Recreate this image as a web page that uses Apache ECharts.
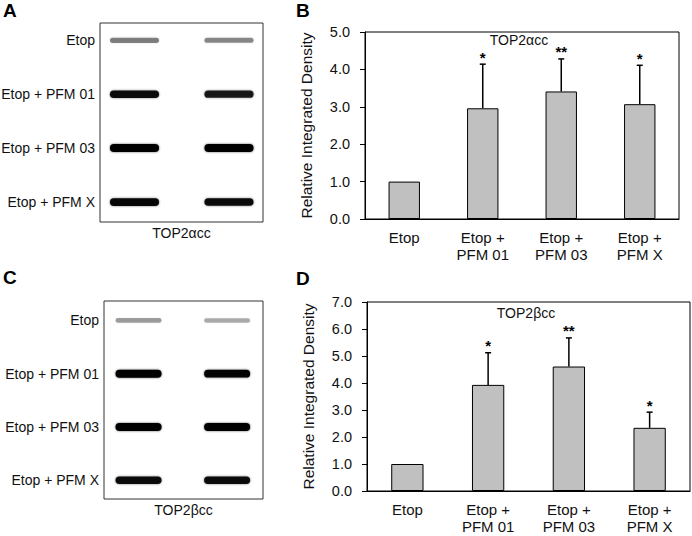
<!DOCTYPE html>
<html>
<head>
<meta charset="utf-8">
<script src="https://cdn.jsdelivr.net/npm/echarts@6.0.0/dist/echarts.min.js"></script>
<style>
html, body { margin: 0; padding: 0; background: #fff; }
#main { width: 692px; height: 536px; }
</style>
</head>
<body>
<div id="main"></div>
<script>
// 斑点图每一行的名字
var blotRows = ['Etop', 'Etop + PFM 01', 'Etop + PFM 03', 'Etop + PFM X'];
// 每行两个泳道的条带深浅 (0~1)
var alphaBands = [[0.45, 0.42], [0.92, 0.85], [1, 1], [0.95, 0.92]];
var betaBands = [[0.35, 0.3], [1, 0.97], [1, 1], [0.92, 0.92]];

// 柱状图数据
var barCategories = ['Etop', 'Etop +\nPFM 01', 'Etop +\nPFM 03', 'Etop +\nPFM X'];
var alphaMean = [1.0, 2.96, 3.41, 3.07];
var alphaErr = [0, 1.18, 0.87, 1.04];
var betaMean = [1.0, 3.93, 4.61, 2.34];
var betaErr = [0, 1.19, 1.06, 0.58];
var sigMarks = ['', '*', '**', '*'];
var alphaYMax = 5;
var betaYMax = 7;

var FONT = '"Liberation Sans", Arial, sans-serif';

function bandData(bands) {
    var out = [];
    for (var r = 0; r < bands.length; r++) {
        for (var l = 0; l < bands[r].length; l++) {
            out.push([l + 1, r, bands[r][l]]);
        }
    }
    return out;
}

// 画条带, 越深越粗
function renderBand(params, api) {
    var c = api.coord([api.value(0), api.value(1)]);
    var w = api.size([0.52, 0])[0];
    var k = api.value(2);
    var h = 3 + 5 * k;
    return {
        type: 'rect',
        shape: { x: c[0] - w / 2, y: c[1] - h / 2, width: w, height: h, r: h / 2 },
        style: { fill: 'rgba(0,0,0,' + k + ')', shadowBlur: 2, shadowColor: 'rgba(0,0,0,' + (k * 0.6) + ')' }
    };
}

function renderRowLabel(params, api) {
    var c = api.coord([1, api.value(1)]);
    return {
        type: 'text',
        x: params.coordSys.x - 5,
        y: c[1],
        style: { text: blotRows[params.dataIndex], align: 'right', verticalAlign: 'middle', font: '14px ' + FONT, fill: '#111' }
    };
}

// 误差线 + 星号
function renderErr(params, api) {
    var i = api.value(0), m = api.value(1), e = api.value(2);
    if (!e) return null;
    var base = api.coord([i, m]);
    var top = api.coord([i, m + e]);
    return {
        type: 'group',
        children: [
            { type: 'line', shape: { x1: base[0], y1: base[1], x2: top[0], y2: top[1] }, style: { stroke: '#000', lineWidth: 1.5 } },
            { type: 'line', shape: { x1: top[0] - 3, y1: top[1], x2: top[0] + 3, y2: top[1] }, style: { stroke: '#000', lineWidth: 1.5 } },
            { type: 'text', x: top[0], y: top[1] - 7, style: { text: sigMarks[params.dataIndex], align: 'center', verticalAlign: 'middle', font: 'bold 15px ' + FONT, fill: '#000' } }
        ]
    };
}

function blotXAxis(grid, min, max, name) {
    return {
        gridIndex: grid, type: 'value', min: min, max: max,
        axisLine: { show: false }, axisTick: { show: false }, axisLabel: { show: false }, splitLine: { show: false },
        name: name, nameLocation: 'middle', nameGap: 4,
        nameTextStyle: { fontSize: 14, color: '#111', fontFamily: FONT, verticalAlign: 'top' }
    };
}
function blotYAxis(grid, min, max) {
    return {
        gridIndex: grid, type: 'value', min: min, max: max, inverse: true,
        axisLine: { show: false }, axisTick: { show: false }, axisLabel: { show: false }, splitLine: { show: false }
    };
}
function barXAxis(grid) {
    return {
        gridIndex: grid, type: 'category', data: barCategories,
        axisLine: { lineStyle: { color: '#000', width: 1 } },
        axisTick: { length: 5, lineStyle: { color: '#000' } },
        axisLabel: { interval: 0, fontSize: 15, color: '#111', fontFamily: FONT, lineHeight: 17, margin: 10 }
    };
}
function barYAxis(grid, max) {
    return {
        gridIndex: grid, type: 'value', min: 0, max: max, interval: 1,
        name: 'Relative Integrated Density', nameLocation: 'middle', nameGap: 51,
        nameTextStyle: { fontSize: 15.5, color: '#111', fontFamily: FONT },
        axisLine: { show: true, lineStyle: { color: '#000', width: 1 } },
        axisTick: { show: true, length: 5, lineStyle: { color: '#000' } },
        axisLabel: { fontSize: 14.5, color: '#111', fontFamily: FONT, margin: 15, formatter: function (v) { return v.toFixed(1); } },
        splitLine: { show: false }
    };
}
function barSeries(axis, means) {
    return {
        type: 'bar', xAxisIndex: axis, yAxisIndex: axis, data: means, barWidth: '40%',
        itemStyle: { color: '#c0c0c0', borderColor: '#000', borderWidth: 1 }
    };
}
function errSeries(axis, means, errs) {
    return {
        type: 'custom', xAxisIndex: axis, yAxisIndex: axis, z: 5,
        data: means.map(function (m, i) { return [i, m, errs[i]]; }),
        encode: { x: 0, y: 1 },
        renderItem: renderErr
    };
}

var chart = echarts.init(document.getElementById('main'), null, { renderer: 'svg' });
var option = {
    animation: false,
    backgroundColor: '#fff',
    grid: [
        { left: 100, top: 23, width: 163, height: 199, show: true, borderColor: '#333', borderWidth: 1 },
        { left: 365, top: 32, width: 314, height: 187, show: true, borderColor: '#000', borderWidth: 1 },
        { left: 104, top: 301, width: 159, height: 198, show: true, borderColor: '#333', borderWidth: 1 },
        { left: 367, top: 302, width: 323, height: 189, show: true, borderColor: '#000', borderWidth: 1 }
    ],
    xAxis: [
        blotXAxis(0, 0.635, 2.36, 'TOP2αcc'),
        barXAxis(1),
        blotXAxis(2, 0.61, 2.405, 'TOP2βcc'),
        barXAxis(3)
    ],
    yAxis: [
        blotYAxis(0, -0.32, 3.37),
        barYAxis(1, alphaYMax),
        blotYAxis(2, -0.364, 3.353),
        barYAxis(3, betaYMax)
    ],
    graphic: [
        { type: 'text', left: 3, top: 1, style: { text: 'A', font: 'bold 19px ' + FONT, fill: '#000' } },
        { type: 'text', left: 296, top: 1, style: { text: 'B', font: 'bold 19px ' + FONT, fill: '#000' } },
        { type: 'text', left: 3, top: 268, style: { text: 'C', font: 'bold 19px ' + FONT, fill: '#000' } },
        { type: 'text', left: 296, top: 269, style: { text: 'D', font: 'bold 19px ' + FONT, fill: '#000' } },
        { type: 'text', x: 519, y: 40, style: { text: 'TOP2αcc', align: 'center', verticalAlign: 'middle', font: '14px ' + FONT, fill: '#111' } },
        { type: 'text', x: 526, y: 313, style: { text: 'TOP2βcc', align: 'center', verticalAlign: 'middle', font: '14px ' + FONT, fill: '#111' } }
    ],
    series: [
        { type: 'custom', xAxisIndex: 0, yAxisIndex: 0, data: bandData(alphaBands), renderItem: renderBand },
        { type: 'custom', xAxisIndex: 0, yAxisIndex: 0, data: blotRows.map(function (n, i) { return [1, i]; }), renderItem: renderRowLabel },
        barSeries(1, alphaMean),
        errSeries(1, alphaMean, alphaErr),
        { type: 'custom', xAxisIndex: 2, yAxisIndex: 2, data: bandData(betaBands), renderItem: renderBand },
        { type: 'custom', xAxisIndex: 2, yAxisIndex: 2, data: blotRows.map(function (n, i) { return [1, i]; }), renderItem: renderRowLabel },
        barSeries(3, betaMean),
        errSeries(3, betaMean, betaErr)
    ]
};
chart.setOption(option);
</script>
</body>
</html>
